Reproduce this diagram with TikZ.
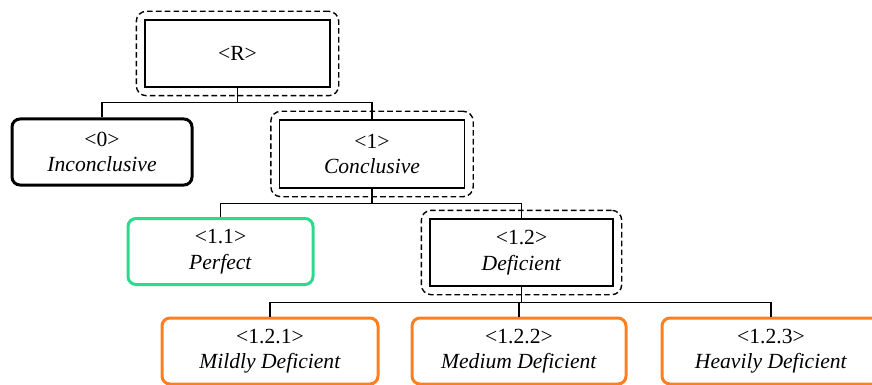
\documentclass[tikz,border=0pt]{standalone}
\usepackage{fontspec}
\setmainfont{Liberation Serif}
\usepackage{xcolor}
\usetikzlibrary{positioning,fit}
\definecolor{goodgreen}{RGB}{44,218,142}
\definecolor{badorange}{RGB}{255,127,32}

\begin{document}
\begin{tikzpicture}[
    x=0.5pt, y=-0.5pt,
    every node/.style={font=\fontsize{10.8}{12.8}\selectfont, align=center},
    label box/.style={rectangle, draw, line width=0.7pt, minimum width=92.5pt, minimum height=33.5pt, inner sep=0pt},
    leaf/.style={rectangle, draw, rounded corners=4pt, line width=1.5pt, minimum height=33pt, inner sep=0pt},
    group/.style={rectangle, draw, dashed, dash pattern=on 2.8pt off 1.6pt, rounded corners=5pt, line width=0.7pt, inner sep=4pt},
    branch/.style={line width=0.7pt}
]
\useasboundingbox (0,0) rectangle (872,385);

% Root
\node[label box] (root) at (237.5,53.5) {<R>};
\node[group, fit=(root)] (rootgrp) {};

% Level 1
\node[leaf, minimum width=90pt] (inconc) at (102,152) {<0>\\\textit{Inconclusive}};
\node[label box, minimum height=34pt] (conc) at (372,154) {<1>\\\textit{Conclusive}};
\node[group, fit=(conc)] (concgrp) {};

% Level 2
\node[leaf, draw=goodgreen, minimum width=92.5pt] (perfect) at (220.5,251.5) {<1.1>\\\textit{Perfect}};
\node[label box, minimum width=91.5pt] (defic) at (521.5,252.5) {<1.2>\\\textit{Deficient}};
\node[group, fit=(defic)] (deficgrp) {};

% Level 3
\node[leaf, draw=badorange, minimum width=108pt] (mild) at (270,351) {<1.2.1>\\\textit{Mildly Deficient}};
\node[leaf, draw=badorange, minimum width=107pt] (medium) at (519,351) {<1.2.2>\\\textit{Medium Deficient}};
\node[leaf, draw=badorange, minimum width=109pt] (heavy) at (771,351) {<1.2.3>\\\textit{Heavily Deficient}};

% Branches
\draw[branch] (root.south) -- ++(0,15) -| (inconc.north);
\draw[branch] (root.south) -- ++(0,15) -| (conc.north);
\draw[branch] (conc.south) -- ++(0,15) -| (perfect.north);
\draw[branch] (conc.south) -- ++(0,15) -| (defic.north);
\draw[branch] (defic.south) -- ++(0,16) -| (mild.north);
\draw[branch] (defic.south) -- ++(0,16) -| (medium.north);
\draw[branch] (defic.south) -- ++(0,16) -| (heavy.north);

\end{tikzpicture}
\end{document}
